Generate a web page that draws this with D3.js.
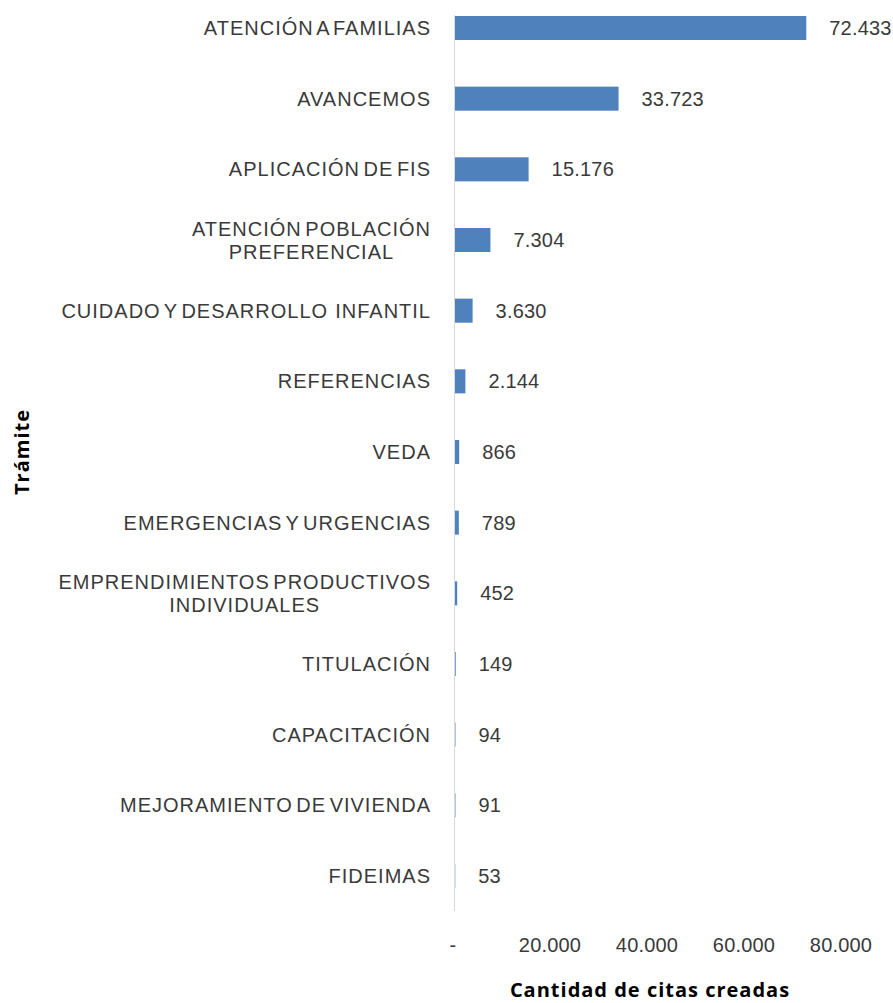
<!DOCTYPE html>
<html><head><meta charset="utf-8">
<script src="https://cdn.jsdelivr.net/npm/d3@7"></script>
<style>body{margin:0;background:#fff}svg{display:block}</style>
</head><body>
<script>
const categories = [
  ["ATENCIÓN A FAMILIAS"],
  ["AVANCEMOS"],
  ["APLICACIÓN DE FIS"],
  ["ATENCIÓN POBLACIÓN", "PREFERENCIAL"],
  ["CUIDADO Y DESARROLLO  INFANTIL"],
  ["REFERENCIAS"],
  ["VEDA"],
  ["EMERGENCIAS Y URGENCIAS"],
  ["EMPRENDIMIENTOS PRODUCTIVOS", "INDIVIDUALES"],
  ["TITULACIÓN"],
  ["CAPACITACIÓN"],
  ["MEJORAMIENTO DE VIVIENDA"],
  ["FIDEIMAS"]
];
const values = [72433, 33723, 15176, 7304, 3630, 2144, 866, 789, 452, 149, 94, 91, 53];
const tickValues = [0, 20000, 40000, 60000, 80000];
const xTitle = "Cantidad de citas creadas";
const yTitle = "Trámite";

const W = 893, H = 1003;
const locale = d3.formatLocale({decimal: ",", thousands: ".", grouping: [3], currency: ["", ""]});
const fmt = locale.format(",.0f");
const fmtTick = v => v === 0 ? "-" : fmt(v);

const svg = d3.select("body").append("svg").attr("width", W).attr("height", H);
const font = "'Liberation Sans', Arial, sans-serif";
const fs = 20, ls = 1.0, ws = -3, txtCol = "#3a3a3a";
const style = sel => sel.attr("font-family", font).attr("font-size", fs)
  .attr("letter-spacing", ls).attr("word-spacing", ws).attr("fill", txtCol);

const keys = categories.map(c => c.join(" "));
const x = d3.scaleLinear().domain([0, 80000]).range([455, 843]);
const y = d3.scaleBand().domain(keys).range([-7.33, 911.33]).paddingInner(0.66).paddingOuter(0.33);

// axis line
svg.append("line").attr("x1", 454.5).attr("x2", 454.5).attr("y1", 15).attr("y2", 911)
  .attr("stroke", "#d9d9d9").attr("stroke-width", 1);

// bars
svg.selectAll("rect.bar").data(values).join("rect")
  .attr("x", x(0)).attr("y", (d, i) => y(keys[i]))
  .attr("width", d => Math.max(0, x(d) - x(0))).attr("height", y.bandwidth())
  .attr("fill", "#4F81BD");

// value labels
svg.selectAll("text.val").data(values).join("text")
  .attr("x", d => x(d) + 23).attr("y", (d, i) => y(keys[i]) + y.bandwidth() / 2)
  .attr("dy", "0.35em").call(style).attr("letter-spacing", 0.2).text(d => fmt(d));

// category labels
const lineH = 23;
categories.forEach((lines, i) => {
  const cy = y(keys[i]) + y.bandwidth() / 2;
  const t = svg.append("text").call(style);
  if (lines.length === 1) {
    t.attr("x", 431).attr("y", cy).attr("dy", "0.35em").attr("text-anchor", "end")
      .style("white-space", "pre").text(lines[0]);
  } else {
    const tmp = svg.append("text").call(style);
    let maxW = 0;
    lines.forEach(l => { tmp.text(l); maxW = Math.max(maxW, tmp.node().getComputedTextLength()); });
    tmp.remove();
    const cx = 431 - maxW / 2;
    t.attr("text-anchor", "middle");
    lines.forEach((l, j) => {
      t.append("tspan").attr("x", cx).attr("y", cy + (j - (lines.length - 1) / 2) * lineH)
        .attr("dy", "0.35em").text(l);
    });
  }
});

// x tick labels
svg.selectAll("text.tick").data(tickValues).join("text")
  .attr("x", d => x(d) - 2).attr("y", 945).attr("dy", "0.35em").attr("text-anchor", "middle")
  .call(style).attr("letter-spacing", 0.2).text(fmtTick);

// titles
svg.append("text").attr("x", 650).attr("y", 997).attr("text-anchor", "middle")
  .attr("font-family", "'Open Sans', Lato, sans-serif").attr("font-weight", "bold").attr("font-size", 20)
  .attr("letter-spacing", 1).attr("fill", "#000").text(xTitle);
svg.append("text").attr("transform", "translate(22,452) rotate(-90)").attr("dy", "0.35em")
  .attr("text-anchor", "middle").attr("font-family", "'Open Sans', Lato, sans-serif")
  .attr("font-weight", "bold").attr("font-size", 20).attr("letter-spacing", 1)
  .attr("fill", "#000").text(yTitle);
</script>
</body></html>
